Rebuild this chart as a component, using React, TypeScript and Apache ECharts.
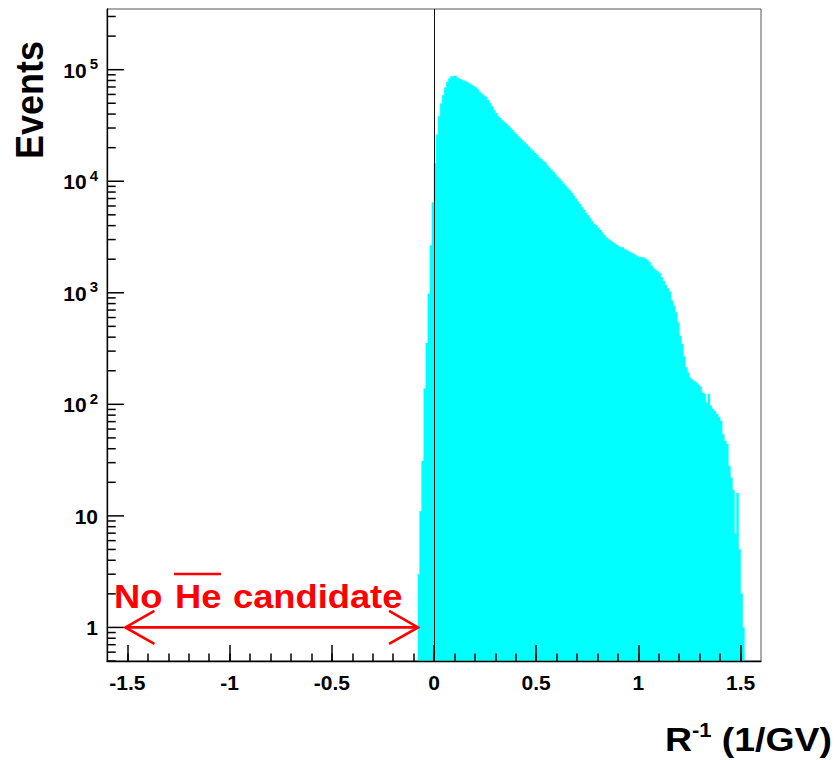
import React, { useEffect, useRef } from "react";
import * as echarts from "echarts";

// ---- data ----
const binStart = -0.08;
const binWidth = 0.01;
// events per 0.01 bin, from R^-1 = -0.08 to 1.52
const counts: number[] = [
  3, 11, 31, 138, 352, 980, 2650, 6460,
  14400, 26100, 38300, 49500, 58800, 68900, 77400, 83000, 87100, 88000,
  88000, 84800, 82500, 81100, 79800, 78500, 76800, 74700, 72900, 71100,
  69300, 66300, 62800, 60400, 58400, 56800, 53500, 50000, 46700, 43200,
  40600, 38200, 36800, 35200, 33900, 32700, 31400, 30100, 28800, 27500,
  26400, 25200, 24100, 23200, 22200, 21400, 20400, 19500, 18800, 17900,
  17300, 16400, 15800, 15200, 14700, 13900, 13200, 12700, 12100, 11500,
  10900, 10500, 9980, 9500, 9100, 8650, 8250, 7830, 7390, 6950,
  6560, 6210, 5860, 5510, 5200, 4920, 4650, 4370, 4120, 4000,
  3830, 3650, 3460, 3280, 3120, 3020, 2940, 2850, 2770, 2690,
  2610, 2560, 2530, 2460, 2400, 2350, 2290, 2240, 2180, 2130,
  2080, 2070, 2070, 2020, 1960, 1880, 1750, 1650, 1600, 1550,
  1500, 1370, 1270, 1170, 1090, 1020, 849, 766, 667, 542,
  412, 347, 267, 214, 192, 173, 166, 161, 157, 150,
  144, 127, 124, 103, 124, 97, 91, 87, 82, 77,
  71, 54, 47, 44, 28, 22, 17, 7, 16, 5,
  2, 1,
];

const xRange = [-1.6, 1.6];
const yRange = [0.5, 3.5e5];
const xMajorTicks = [-1.5, -1, -0.5, 0, 0.5, 1, 1.5];
const xMinorTicks = [
  -1.5, -1.4, -1.3, -1.2, -1.1, -1, -0.9, -0.8, -0.7, -0.6, -0.5, -0.4, -0.3, -0.2, -0.1,
  0, 0.1, 0.2, 0.3, 0.4, 0.5, 0.6, 0.7, 0.8, 0.9, 1, 1.1, 1.2, 1.3, 1.4, 1.5,
];
const yMajorTicks = [1, 10, 100, 1000, 10000, 100000];
const yMinorMantissas = [2, 3, 4, 5, 6, 7, 8, 9];
const yMinorDecades = [0.1, 1, 10, 100, 1000, 10000, 100000];
const zeroLine = 0;
const arrowSpan = [-1.51, -0.078];
const arrowLevel = 1;

const FONT = "'Liberation Sans', Arial, Helvetica, sans-serif";

export default function App() {
  const ref = useRef<HTMLDivElement>(null);

  useEffect(() => {
    if (!ref.current) return;
    const chart = echarts.init(ref.current, undefined, { renderer: "svg" });

    const points: number[][] = counts.map((c, i) => [
      +(binStart + i * binWidth).toFixed(4),
      c,
    ]);
    points.push([
      +(binStart + counts.length * binWidth).toFixed(4),
      counts[counts.length - 1],
    ]);

    const yMinorTicks: number[] = [];
    yMinorDecades.forEach((d) =>
      yMinorMantissas.forEach((m) => {
        const v = +(m * d).toPrecision(3);
        if (v >= yRange[0] && v <= yRange[1]) yMinorTicks.push(v);
      })
    );
    // [x at left frame, y tick value, tick length in px]
    const yTickData = [
      ...yMajorTicks.map((v) => [xRange[0], v, 17]),
      ...yMinorTicks.map((v) => [xRange[0], v, 8.7]),
    ];

    const yLabelFormatter = (v: number) => {
      const e = Math.round(Math.log10(v));
      if (e === 0) return "{b|1}";
      if (e === 1) return "{b|10}";
      return `{b|10}{s|${e}}`;
    };

    chart.setOption({
      animation: false,
      backgroundColor: "#ffffff",
      grid: {
        left: 107,
        top: 9,
        right: 75,
        bottom: 99,
        show: true,
        borderColor: "#555555",
        borderWidth: 1,
        backgroundColor: "transparent",
      },
      xAxis: [
        {
          type: "value",
          min: xRange[0],
          max: xRange[1],
          position: "bottom",
          z: 10,
          axisLine: { show: true, onZero: false, lineStyle: { color: "#000", width: 1.3 } },
          axisTick: {
            show: true,
            inside: true,
            length: 16,
            customValues: xMajorTicks,
            lineStyle: { color: "#000", width: 1.5 },
          },
          axisLabel: {
            show: true,
            customValues: xMajorTicks,
            formatter: (v: number) => String(v),
            color: "#000",
            fontFamily: FONT,
            fontWeight: "bold",
            fontSize: 21,
            margin: 11,
          },
          splitLine: { show: false },
        },
        {
          type: "value",
          min: xRange[0],
          max: xRange[1],
          position: "bottom",
          z: 10,
          axisLine: { show: false, onZero: false },
          axisTick: {
            show: true,
            inside: true,
            length: 7.5,
            customValues: xMinorTicks,
            lineStyle: { color: "#000", width: 1.5 },
          },
          axisLabel: { show: false },
          splitLine: { show: false },
        },
      ],
      yAxis: [
        {
          type: "log",
          logBase: 10,
          min: yRange[0],
          max: yRange[1],
          position: "left",
          z: 10,
          axisLine: { show: true, onZero: false, lineStyle: { color: "#000", width: 1.3 } },
          axisTick: { show: false },
          axisLabel: {
            show: true,
            customValues: yMajorTicks,
            formatter: yLabelFormatter,
            margin: 9,
            rich: {
              b: {
                fontFamily: FONT,
                fontWeight: "bold",
                fontSize: 21,
                color: "#000",
                lineHeight: 22,
                verticalAlign: "bottom",
              },
              s: {
                fontFamily: FONT,
                fontWeight: "bold",
                fontSize: 15,
                color: "#000",
                lineHeight: 15,
                padding: [0, 0, 12, 3],
              },
            },
          },
          splitLine: { show: false },
          minorTick: { show: false },
        },
      ],
      series: [
        {
          type: "line",
          xAxisIndex: 0,
          yAxisIndex: 0,
          data: points,
          step: "end",
          symbol: "none",
          z: 2,
          lineStyle: { color: "#00ffff", width: 0.5 },
          areaStyle: { color: "#00ffff", opacity: 1, origin: "start" },
          markLine: {
            silent: true,
            symbol: ["none", "none"],
            label: { show: false },
            lineStyle: { color: "#111", width: 1, type: "solid" },
            data: [{ xAxis: zeroLine }],
          },
        },
        {
          type: "custom",
          xAxisIndex: 0,
          yAxisIndex: 0,
          z: 12,
          silent: true,
          clip: false,
          data: yTickData,
          renderItem: (params: any, api: any) => {
            const p = api.coord([api.value(0), api.value(1)]);
            const len = api.value(2);
            return {
              type: "line",
              shape: { x1: p[0], y1: p[1], x2: p[0] + len, y2: p[1] },
              style: { stroke: "#000", lineWidth: 1.5 },
            };
          },
        },
      ],
    });

    const finder = { xAxisIndex: 0, yAxisIndex: 0 };
    const pL = chart.convertToPixel(finder, [arrowSpan[0], arrowLevel]) as number[];
    const pR = chart.convertToPixel(finder, [arrowSpan[1], arrowLevel]) as number[];
    const hx = 29;
    const hy = 16.5;
    const red = "#ff0000";
    const arrowStyle = { stroke: red, lineWidth: 2.6, fill: "none" };
    const redText = (text: string, x: number) => ({
      type: "text",
      x,
      y: 597,
      scaleX: 1.1,
      z: 20,
      style: {
        text,
        fill: red,
        font: `bold 33px ${FONT}`,
        align: "left",
        verticalAlign: "middle",
      },
    });

    chart.setOption({
      graphic: [
        {
          type: "text",
          x: 29,
          y: 100,
          rotation: Math.PI / 2,
          scaleY: 1.1,
          style: {
            text: "Events",
            fill: "#000",
            font: `bold 36px ${FONT}`,
            align: "center",
            verticalAlign: "middle",
          },
        },
        {
          type: "text",
          x: 832,
          y: 760,
          scaleX: 1.1,
          style: {
            text: "{a|R}{b|-1}{a| (1/GV)}",
            align: "right",
            verticalAlign: "bottom",
            rich: {
              a: {
                fontFamily: FONT,
                fontWeight: "bold",
                fontSize: 34,
                lineHeight: 40,
                color: "#000",
              },
              b: {
                fontFamily: FONT,
                fontWeight: "bold",
                fontSize: 20,
                lineHeight: 20,
                color: "#000",
                padding: [0, 0, 20, 0],
              },
            },
          },
        },
        redText("No", 114),
        redText("He", 175),
        redText("candidate", 233),
        {
          type: "line",
          z: 20,
          shape: { x1: 174, y1: 574, x2: 221, y2: 574 },
          style: { stroke: red, lineWidth: 2.6 },
        },
        {
          type: "line",
          z: 20,
          shape: { x1: pL[0], y1: pL[1], x2: pR[0], y2: pR[1] },
          style: arrowStyle,
        },
        {
          type: "polyline",
          z: 20,
          shape: {
            points: [
              [pL[0] + hx, pL[1] - hy],
              [pL[0], pL[1]],
              [pL[0] + hx, pL[1] + hy],
            ],
          },
          style: arrowStyle,
        },
        {
          type: "polyline",
          z: 20,
          shape: {
            points: [
              [pR[0] - hx, pR[1] - hy],
              [pR[0], pR[1]],
              [pR[0] - hx, pR[1] + hy],
            ],
          },
          style: arrowStyle,
        },
      ],
    });

    return () => chart.dispose();
  }, []);

  return (
    <div
      ref={ref}
      style={{
        position: "fixed",
        left: 0,
        top: 0,
        width: 836,
        height: 760,
        background: "#fff",
      }}
    />
  );
}
